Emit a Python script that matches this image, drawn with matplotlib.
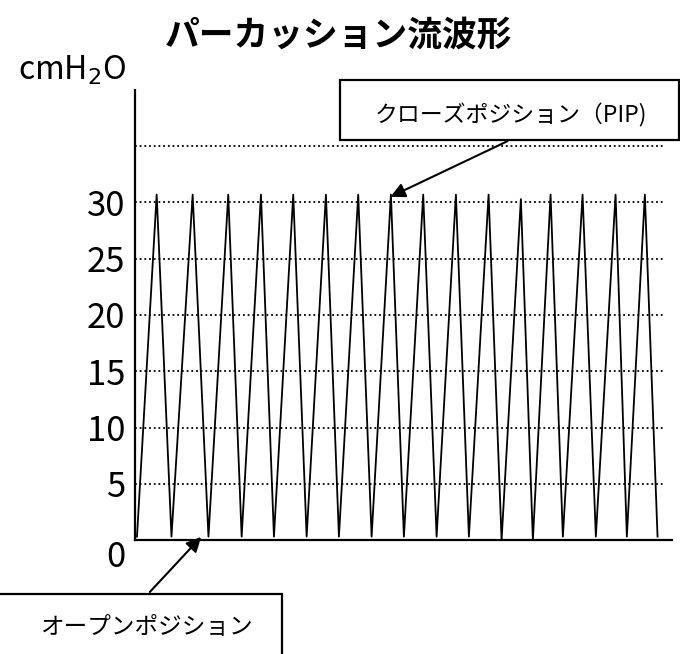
import matplotlib
matplotlib.use('Agg')
import matplotlib.pyplot as plt
from matplotlib.patches import Rectangle
from matplotlib.transforms import ScaledTranslation

plt.rcParams['font.family'] = ['Noto Sans CJK JP', 'DejaVu Sans']

## Data (time in arbitrary units, pressure in cmH2O)
trough_t = [0.2, 3.65, 7.35, 10.67, 13.9, 17.17, 20.4, 23.67, 26.9, 30.17,
            33.4, 36.67, 39.8, 42.8, 46.1, 49.2, 52.27]
trough_p = [0.3, 0.3, 0.3, 0.3, 0.3, 0.3, 0.3, 0.3, 0.3, 0.3,
            0.3, 0.0, 0.0, 0.3, 0.3, 0.3, 0.3]
peak_t = [2.17, 5.77, 9.33, 12.6, 15.83, 19.1, 22.33, 25.6, 28.83, 32.1,
          35.37, 38.6, 41.57, 44.77, 48.07, 51.0]
peak_p = [30.7, 30.7, 30.7, 30.7, 30.7, 30.7, 30.7, 30.7, 30.7, 30.7,
          30.7, 30.3, 30.7, 30.7, 30.7, 30.7]

ytick_vals = [0, 5, 10, 15, 20, 25, 30]
grid_vals = [5, 10, 15, 20, 25, 30, 35]

title = 'パーカッション流波形'
unit = r'cmH$_2$O'
pip_label = 'クローズポジション（PIP)'
open_label = 'オープンポジション'

## Zigzag: trough, peak, trough, ...
t, p = [], []
for i in range(len(trough_t)):
    t.append(trough_t[i]); p.append(trough_p[i])
    if i < len(peak_t):
        t.append(peak_t[i]); p.append(peak_p[i])

fig = plt.figure(figsize=(6.8, 6.54), dpi=100)
ax = fig.add_axes([0.1985, 0.1743, 0.7895, 0.6881])

ax.hlines(grid_vals, 0, 52.8, colors='black', linestyles=(0, (1, 1.6)), linewidth=1.3, zorder=1)
ax.plot(t, p, color='black', linewidth=1.3, zorder=2)

ax.set_xlim(0, 53.7)
ax.set_ylim(0, 40)
ax.set_xticks([])
ax.set_yticks(ytick_vals)
ax.set_yticklabels([str(v) for v in ytick_vals], fontsize=25)
ax.tick_params(axis='y', length=0, pad=7)
for s in ['top', 'right']:
    ax.spines[s].set_visible(False)
for s in ['left', 'bottom']:
    ax.spines[s].set_linewidth(1.6)

# the 0 label sits a little below the axis in the original
lbl0 = ax.get_yticklabels()[0]
lbl0.set_transform(lbl0.get_transform() + ScaledTranslation(0, -10 / 72, fig.dpi_scale_trans))

fig.text(0.4985, 0.9465, title, fontsize=25, fontweight='bold', ha='center', va='center')
fig.text(0.106, 0.893, unit, fontsize=23, ha='center', va='center')

## Callout boxes
fig.patches.append(Rectangle((0.5, 0.786), 0.4985, 0.092, transform=fig.transFigure,
                             fill=False, edgecolor='black', linewidth=1.6))
fig.text(0.751, 0.824, pip_label, fontsize=16.5, ha='center', va='center')
ax.annotate('', xy=(25.3, 30.4), xycoords='data',
            xytext=(0.75, 0.786), textcoords='figure fraction',
            arrowprops=dict(arrowstyle='-|>', color='black', lw=1.5, mutation_scale=22))

fig.patches.append(Rectangle((-0.01, -0.01), 0.4247, 0.1017, transform=fig.transFigure,
                             fill=False, edgecolor='black', linewidth=1.6))
fig.text(0.216, 0.041, open_label, fontsize=17, ha='center', va='center')
ax.annotate('', xy=(6.8, 0.45), xycoords='data',
            xytext=(0.2176, 0.0917), textcoords='figure fraction',
            arrowprops=dict(arrowstyle='-|>', color='black', lw=1.5, mutation_scale=22))

fig.savefig('out.png', dpi=100)
